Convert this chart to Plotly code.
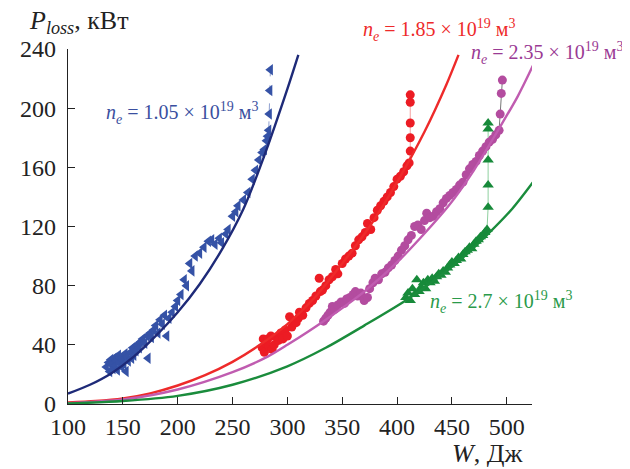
import plotly.graph_objects as go

# ---------------- data ----------------
# Fit curves (W in J, P in kW)
fit_blue_x = [100, 120, 140, 160, 180, 200, 220, 240, 260, 280, 300, 310]
fit_blue_y = [7, 13, 21, 32, 46, 62, 81, 104, 132, 170, 213, 236]

fit_red_x = [100, 125, 150, 175, 200, 225, 250, 275, 300, 325, 350, 375, 400, 425, 445, 456]
fit_red_y = [1, 2, 3.8, 7.2, 12.5, 19.5, 28.5, 40, 54, 72, 95, 120, 150, 184, 216, 236]

fit_purple_x = [100, 150, 200, 250, 282, 300, 335, 370, 403, 447, 470, 492, 510, 524]
fit_purple_y = [0.5, 3, 9.8, 21.5, 32, 40, 57, 76, 98, 134, 158, 185, 208, 229]

fit_green_x = [100, 150, 200, 250, 300, 335, 370, 410, 440, 460, 483, 505, 525]
fit_green_y = [0.3, 2, 5.5, 13, 25.5, 38, 53, 71, 87, 99, 115, 132, 151]

# Measured points
blue_x = [135, 137, 138, 139, 140, 141, 142, 143, 144, 145, 146, 147, 148, 149, 150, 151, 152, 153,
          154, 155, 157, 158, 159, 160, 162, 163, 165, 166, 168, 170, 172, 173, 175, 176, 178, 180,
          182, 184, 186, 188, 190, 192, 195, 198, 200, 203, 206, 208, 211, 213, 216, 220, 224, 228,
          231, 234, 238, 240, 244, 246, 250, 253, 255, 260, 264, 268, 271, 274, 277, 279, 281, 282, 283]
blue_y = [25, 28, 22, 30, 27, 24, 31, 26, 29, 23, 33, 28, 31, 25, 30, 27, 34, 22,
          32, 29, 35, 31, 38, 33, 36, 40, 38, 42, 44, 41, 46, 31, 48, 45, 50, 53,
          48, 57, 54, 60, 46, 58, 62, 66, 70, 74, 84, 80, 95, 90, 100, 102, 106, 110,
          111, 108, 112, 109, 115, 118, 127, 130, 134, 138, 143, 152, 158, 165, 170, 172, 178, 181, 185]
blue_stack_x = [283, 283.5, 284, 284.5]
blue_stack_y = [185, 196, 212, 226]

red_x = [277, 278, 279, 280, 282, 283, 285, 286, 288, 290, 292, 294, 296, 298, 300, 302, 304, 306,
         308, 310, 311, 314, 317, 320, 323, 326, 329, 330, 332, 335, 338, 341, 344, 346, 350, 353,
         356, 359, 362, 365, 368, 371, 373, 376, 379, 382, 385, 388, 391, 394, 397, 400, 403, 406,
         409, 411]
red_y = [38, 44, 35, 41, 44, 39, 46, 37, 40, 45, 43, 48, 44, 50, 46, 59, 52, 55,
         55, 58, 62, 60, 65, 68, 70, 73, 85, 76, 77, 80, 84, 86, 91, 88, 95, 98,
         100, 102, 107, 111, 113, 116, 122, 118, 126, 131, 134, 137, 140, 143, 147, 152, 154, 157,
         161, 163]
red_stack_x = [411, 412, 412, 412, 412, 412]
red_stack_y = [163, 171, 180, 190, 204, 209]

purple_x = [333, 335, 337, 339, 341, 343, 346, 349, 352, 354, 357, 360, 362, 364, 367, 370, 373, 375,
            378, 380, 383, 386, 389, 392, 395, 398, 401, 404, 407, 410, 413, 416, 419, 422, 425, 427,
            430, 433, 436, 439, 442, 445, 448, 451, 454, 457, 460, 463, 466, 469, 472, 475, 478, 481,
            484, 487, 490, 493]
purple_y = [56, 58, 60, 62, 66, 64, 67, 69, 68, 71, 72, 74, 76, 73, 75, 70, 72, 78,
            82, 85, 84, 88, 89, 92, 94, 97, 100, 104, 107, 111, 114, 120, 121, 118, 124, 129,
            126, 127, 130, 132, 136, 139, 141, 143, 145, 148, 150, 155, 159, 162, 164, 168, 171, 174,
            177, 179, 182, 185]
purple_stack_x = [493, 494, 495, 496]
purple_stack_y = [185, 196, 210, 219]

green_x = [408, 410, 412, 414, 416, 418, 420, 422, 424, 426, 428, 430, 432, 434, 436, 438, 440, 442,
           444, 446, 448, 450, 452, 454, 456, 458, 460, 462, 464, 466, 468, 470, 472, 474, 476, 478,
           480, 482]
green_y = [72, 75, 70, 78, 74, 84, 76, 79, 82, 78, 84, 82, 85, 83, 86, 88, 87, 90,
           89, 92, 94, 96, 95, 97, 99, 98, 101, 103, 104, 106, 105, 108, 110, 111, 113, 114,
           116, 118]
green_stack_x = [482, 483, 483, 483, 483, 483]
green_stack_y = [118, 133, 148, 165, 186, 190]

x_ticks = [100, 150, 200, 250, 300, 350, 400, 450, 500]
y_ticks = [0, 40, 80, 120, 160, 200, 240]

# ---------------- styles ----------------
FONT = "Liberation Serif, serif"
C_BLUE_M, C_BLUE_L, C_BLUE_T = "#3552a6", "#1e2a78", "#3a4fa0"
C_RED_M, C_RED_L, C_RED_T = "#ec1c24", "#ee2a2a", "#ee2a2a"
C_PUR_M, C_PUR_L, C_PUR_T = "#b34c9f", "#c05cb0", "#9a3a94"
C_GRN_M, C_GRN_L, C_GRN_T = "#178a3a", "#1a8c3c", "#2a9a4a"

fig = go.Figure()

def stack(xs, ys, color, dash="solid"):
    fig.add_trace(go.Scatter(x=xs, y=ys, mode="lines", line=dict(color=color, width=1, dash=dash),
                             hoverinfo="skip", showlegend=False))

stack(blue_stack_x, blue_stack_y, "#8fa0d0", "dash")
stack(red_stack_x, red_stack_y, "#f4a0a0")
stack(purple_stack_x, purple_stack_y, "#777777")
stack(green_stack_x, green_stack_y, "#8fd09f")

def pts(xs, ys, color, symbol, size):
    fig.add_trace(go.Scatter(x=xs, y=ys, mode="markers",
                             marker=dict(color=color, symbol=symbol, size=size, line=dict(width=0)),
                             showlegend=False))

pts(blue_x + blue_stack_x[1:], blue_y + blue_stack_y[1:], C_BLUE_M, "triangle-left", 10)
pts(red_x + red_stack_x[1:], red_y + red_stack_y[1:], C_RED_M, "circle", 9)
pts(purple_x + purple_stack_x[1:], purple_y + purple_stack_y[1:], C_PUR_M, "circle", 9)
pts(green_x + green_stack_x[1:], green_y + green_stack_y[1:], C_GRN_M, "triangle-up", 10)

def curve(xs, ys, color):
    fig.add_trace(go.Scatter(x=xs, y=ys, mode="lines",
                             line=dict(color=color, width=2.4, shape="spline", smoothing=0.8),
                             showlegend=False))

curve(fit_blue_x, fit_blue_y, C_BLUE_L)
curve(fit_red_x, fit_red_y, C_RED_L)
curve(fit_purple_x, fit_purple_y, C_PUR_L)
curve(fit_green_x, fit_green_y, C_GRN_L)

def label(x, y, txt, color, yref="y"):
    fig.add_annotation(x=x, y=y, xref="x", yref=yref, text=txt, showarrow=False,
                       xanchor="left", yanchor="middle", font=dict(family=FONT, size=20, color=color))

label(133, 197, "<i>n<sub>e</sub></i> = 1.05 × 10<sup>19</sup> м<sup>3</sup>", C_BLUE_T)
label(367, 253 / 240, "<i>n<sub>e</sub></i> = 1.85 × 10<sup>19</sup> м<sup>3</sup>", C_RED_T, "paper")
label(465.5, 237, "<i>n<sub>e</sub></i> = 2.35 × 10<sup>19</sup> м<sup>3</sup>", C_PUR_T)
label(428, 69, "<i>n<sub>e</sub></i> = 2.7 × 10<sup>19</sup> м<sup>3</sup>", C_GRN_T)

fig.add_annotation(x=-0.088, y=1.076, xref="paper", yref="paper", xanchor="left", yanchor="middle",
                   text="<i>P<sub>loss</sub></i>, кВт", showarrow=False,
                   font=dict(family=FONT, size=26, color="#222222"))
fig.add_annotation(x=0.985, y=-0.14, xref="paper", yref="paper", xanchor="right", yanchor="middle",
                   text="<i>W</i>, Дж", showarrow=False,
                   font=dict(family=FONT, size=26, color="#222222"))

axis_common = dict(showgrid=False, zeroline=False, showline=True, linecolor="#222222", linewidth=1.3,
                   ticks="inside", ticklen=7, tickwidth=1.3, tickcolor="#222222",
                   tickfont=dict(family=FONT, size=24, color="#222222"))

# the page body adds an 8px offset, so margins are shifted by 8px to place the plot area
fig.update_layout(
    width=630, height=469,
    margin=dict(l=47, r=106, t=41, b=73),
    font=dict(family=FONT, color="#222222"),
    paper_bgcolor="white", plot_bgcolor="white",
    xaxis=dict(range=[100, 523], tickvals=x_ticks, ticklabelstandoff=1, **axis_common),
    yaxis=dict(range=[0, 240], tickvals=y_ticks, ticklabelstandoff=6, **axis_common),
)

fig.write_html("out.html")
